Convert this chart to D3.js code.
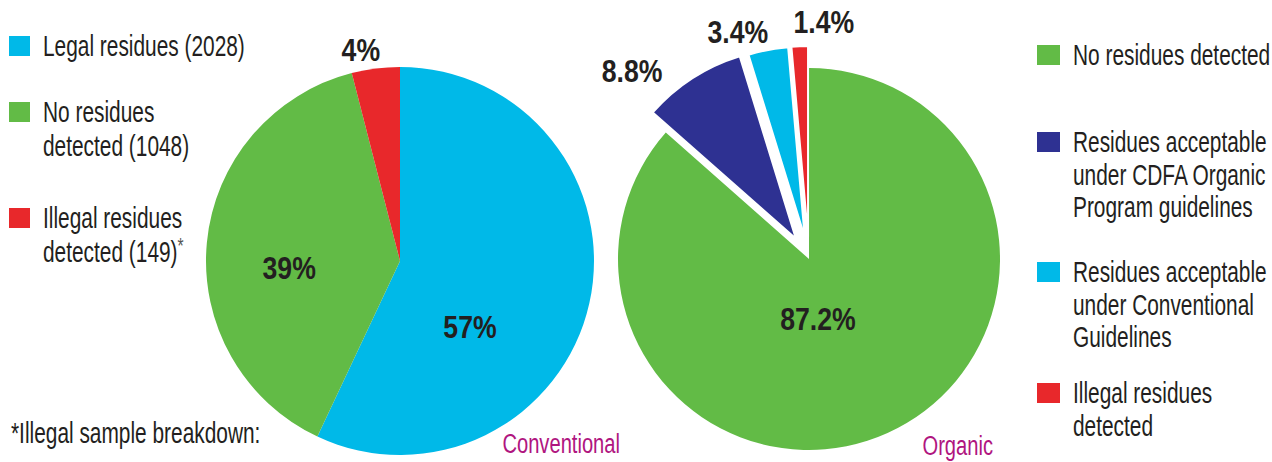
<!DOCTYPE html>
<html>
<head>
<meta charset="utf-8">
<script src="https://cdn.jsdelivr.net/npm/d3@7"></script>
<style>
  body { margin: 0; background: #fff; }
  svg text { font-family: "Liberation Sans", Arial, sans-serif; fill: #231f20; }
</style>
</head>
<body>
<svg id="chart" width="1272" height="462"></svg>
<script>
// conventional samples
const convCategories = ["Legal residues", "No residues detected", "Illegal residues detected"];
const convValues = [57, 39, 4];
const convLabels = ["57%", "39%", "4%"];
const convColors = ["#00b9e8", "#62bb46", "#e8282b"];

// organic samples
const orgCategories = ["No residues detected", "Residues acceptable under CDFA Organic Program guidelines",
    "Residues acceptable under Conventional Guidelines", "Illegal residues detected"];
const orgValues = [87.2, 8.8, 3.4, 1.4];
const orgLabels = ["87.2%", "8.8%", "3.4%", "1.4%"];
const orgColors = ["#62bb46", "#2e3192", "#00b9e8", "#e8282b"];

// legend text
const leftLegend = [["Legal residues (2028)"], ["No residues", "detected (1048)"], ["Illegal residues", "detected (149)*"]];
const rightLegend = [["No residues detected"], ["Residues acceptable", "under CDFA Organic", "Program guidelines"],
    ["Residues acceptable", "under Conventional", "Guidelines"], ["Illegal residues", "detected"]];

const svg = d3.select("#chart");
const squeeze = 0.72;   // fake a condensed face

function addText(x, y, str, size, opts = {}) {
    const t = svg.append("text")
        .attr("transform", `translate(${x},${y}) scale(${opts.sx || squeeze},1)`)
        .attr("font-size", size)
        .attr("text-anchor", opts.anchor || "start")
        .attr("font-weight", opts.bold ? "bold" : "normal");
    if (str.endsWith("*") && !str.startsWith("*")) {
        t.append("tspan").text(str.slice(0, -1));
        t.append("tspan").attr("font-size", size * 0.75).attr("dy", -9).style("fill", "#555").text("*");
    } else {
        t.text(str);
    }
    if (opts.fill) t.style("fill", opts.fill);
    return t;
}

function drawPie(cx, cy, radius, values, colors, explode) {
    const pie = d3.pie().sort(null).value(d => d);
    const arc = d3.arc().innerRadius(0).outerRadius(radius);
    const arcs = pie(values);

    const g = svg.append("g").attr("transform", `translate(${cx},${cy})`);
    g.selectAll("path")
        .data(arcs)
        .enter()
        .append("path")
        .attr("d", arc)
        .attr("fill", (d, i) => colors[i])
        .attr("stroke", (d, i) => explode[i] ? "#fff" : "none")
        .attr("stroke-width", 2)
        .attr("transform", (d, i) => {
            const a = (d.startAngle + d.endAngle) / 2;
            return `translate(${Math.sin(a) * explode[i]},${-Math.cos(a) * explode[i]})`;
        });
    return arcs;
}

function drawLabels(cx, cy, labels, spots) {
    // spots: [angle in degrees from 12 o'clock, distance from centre]
    labels.forEach((lab, i) => {
        const a = spots[i][0] * Math.PI / 180;
        const x = cx + Math.sin(a) * spots[i][1];
        const y = cy - Math.cos(a) * spots[i][1];
        addText(x, y + 11, lab, 31, { anchor: "middle", bold: true, sx: 0.86 });
    });
}

function drawLegend(x, items, colors, tops, lineGap, boxW) {
    items.forEach((lines, i) => {
        svg.append("rect")
            .attr("x", x)
            .attr("y", tops[i])
            .attr("width", boxW)
            .attr("height", 20)
            .attr("fill", colors[i]);
        lines.forEach((line, j) => {
            addText(x + boxW + 13, tops[i] + 20 + j * lineGap, line, 29);
        });
    });
}

// conventional pie
drawPie(400, 261, 194, convValues, convColors, [0, 0, 0]);
drawLabels(400, 261, convLabels, [[133.2, 96], [266.4, 111], [349.5, 215]]);

// organic pie, small slices pulled out
drawPie(809, 259, 191, orgValues, orgColors, [0, 24, 22, 22]);
drawLabels(809, 259, orgLabels, [[171.5, 61], [316.7, 258], [342.6, 238], [3.6, 237]]);

// legends
drawLegend(9, leftLegend, ["#00b9e8", "#62bb46", "#e8282b"], [36, 102, 208], 34, 21);
drawLegend(1037, rightLegend, orgColors, [45, 132, 262, 383], 32.5, 23);

// titles under pies
addText(620, 453, "Conventional", 28, { anchor: "end", fill: "#b0157f" });
addText(993, 455, "Organic", 28, { anchor: "end", fill: "#b0157f" });

// footnote
addText(11, 443, "*Illegal sample breakdown:", 29);
</script>
</body>
</html>
